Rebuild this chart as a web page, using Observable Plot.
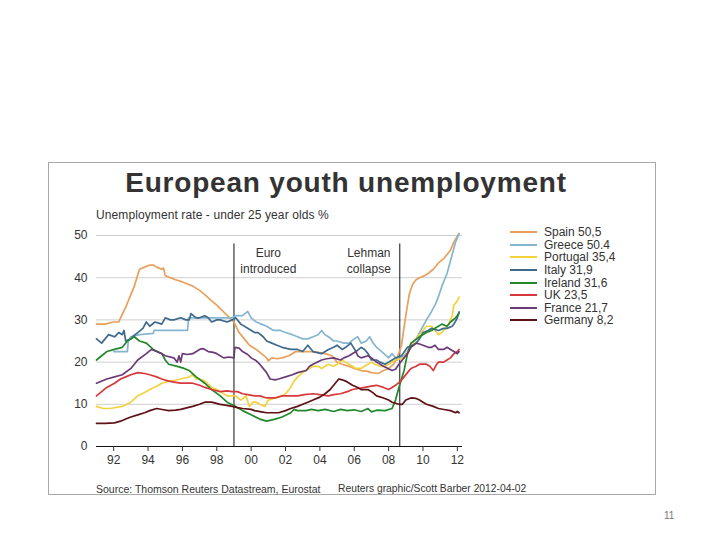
<!DOCTYPE html>
<html>
<head>
<meta charset="utf-8">
<script src="https://cdn.jsdelivr.net/npm/d3@7"></script>
<script src="https://cdn.jsdelivr.net/npm/@observablehq/plot@0.6"></script>
<style>
  html, body { margin: 0; padding: 0; background: #fff; }
  body { font-family: "Liberation Sans", Arial, sans-serif; color: #333; }
  #wrap { position: relative; width: 720px; height: 540px; overflow: hidden; background: #fff; }
  #box { position: absolute; left: 48px; top: 162px; width: 606px; height: 331px; border: 1px solid #a8a8a8; }
  #title { position: absolute; left: 48px; width: 596px; top: 167px; text-align: center; font-size: 28px; letter-spacing: 0.8px; font-weight: bold; color: #333; line-height: 32px; white-space: nowrap; }
  #subtitle { position: absolute; left: 96px; top: 208px; font-size: 12px; color: #333; line-height: 14px; white-space: nowrap; letter-spacing: 0.1px; }
  #chart { position: absolute; left: 0; top: 0; }
  #legend { position: absolute; left: 510px; top: 226px; }
  .row { display: flex; align-items: center; height: 12.6px; font-size: 12px; line-height: 12px; color: #333; white-space: nowrap; }
  .sw { width: 27px; height: 2px; margin-right: 7px; }
  #foot1 { position: absolute; left: 96px; top: 483px; font-size: 10.5px; color: #333; white-space: nowrap; }
  #foot2 { position: absolute; left: 338px; top: 483px; font-size: 10.3px; color: #333; white-space: nowrap; }
  #page { position: absolute; left: 664px; top: 510px; font-size: 10px; color: #777; }
</style>
</head>
<body>
<div id="wrap">
  <div id="box"></div>
  <div id="title">European youth unemployment</div>
  <div id="subtitle">Unemployment rate - under 25 year olds %</div>
  <div id="chart"></div>
  <div id="legend"></div>
  <div id="foot1">Source: Thomson Reuters Datastream, Eurostat</div>
  <div id="foot2">Reuters graphic/Scott Barber 2012-04-02</div>
  <div id="page">11</div>
</div>
<script>
// ---- data: [year, % unemployed under 25] ----
const spain = [[1991.0,29],[1991.5,29],[1992.0,29.5],[1992.3,29.5],[1992.4,30.5],[1992.7,33],[1993.0,36],[1993.2,38],[1993.5,42],[1993.8,42.5],[1994.1,43],[1994.3,43],[1994.5,42.5],[1994.8,42],[1994.9,42.3],[1995.0,40.5],[1995.3,40],[1995.6,39.5],[1996.0,39],[1996.3,38.5],[1996.6,38],[1997.0,37],[1997.3,36],[1997.7,34.5],[1998.0,33.5],[1998.5,31.5],[1999.0,29.5],[1999.3,27],[1999.6,25.5],[1999.9,24],[2000.3,23],[2000.6,22],[2000.9,21],[2001.0,20.3],[2001.2,21],[2001.5,20.8],[2001.8,21],[2002.2,21.5],[2002.6,22.5],[2003.0,22.5],[2003.5,22.5],[2003.9,22.3],[2004.3,22],[2004.7,21.5],[2005.0,20],[2005.3,19.5],[2005.7,19],[2006.0,18.5],[2006.4,18],[2006.8,17.8],[2007.0,17.5],[2007.4,17.3],[2007.7,18],[2008.0,18.5],[2008.3,19.5],[2008.5,21],[2008.75,24],[2009.0,31],[2009.2,36],[2009.4,38.5],[2009.6,39.5],[2009.8,40],[2010.1,40.5],[2010.3,41],[2010.6,42],[2010.9,43.5],[2011.2,44.5],[2011.4,45.5],[2011.6,46.5],[2011.8,48.5],[2012.1,50.5]];
const greece = [[1992.0,22.5],[1992.8,22.5],[1992.85,25],[1993.0,26],[1993.5,26.5],[1994.3,26.8],[1994.35,27.5],[1996.3,27.5],[1996.35,30.5],[1998.9,30.5],[1999.1,31],[1999.5,31],[1999.8,32],[2000.0,30.5],[2000.3,29.5],[2000.6,29],[2000.9,28.5],[2001.3,27.5],[2001.7,27.5],[2002.0,27],[2002.4,26.5],[2002.7,26],[2003.0,25.5],[2003.3,25.5],[2003.6,26],[2003.9,26.5],[2004.1,27.5],[2004.3,26.5],[2004.5,26],[2004.8,25],[2005.0,25],[2005.4,24.5],[2005.7,24.5],[2006.0,25.5],[2006.2,26],[2006.4,24.5],[2006.7,25],[2006.9,26],[2007.1,24.5],[2007.3,23.5],[2007.6,22.5],[2008.0,21],[2008.2,22],[2008.5,20.5],[2008.9,21.5],[2009.1,22.5],[2009.3,24],[2009.6,25.5],[2009.8,27],[2010.0,28.5],[2010.2,30],[2010.5,32],[2010.7,33.5],[2010.9,35.5],[2011.1,38],[2011.4,41],[2011.6,44],[2011.8,47],[2011.9,48.5],[2012.1,50.4]];
const portugal = [[1991.0,9.5],[1991.4,9],[1991.8,9],[1992.2,9.3],[1992.5,9.5],[1993.0,10.5],[1993.4,12],[1993.8,12.8],[1994.1,13.5],[1994.5,14.3],[1994.8,15],[1995.2,15.5],[1995.6,15.7],[1995.9,16],[1996.2,16.3],[1996.4,16.5],[1996.6,17],[1996.8,16],[1997.0,16],[1997.3,15.5],[1997.7,14],[1998.0,13.5],[1998.2,13],[1998.6,12],[1999.1,12],[1999.4,11],[1999.7,12],[1999.9,9.5],[2000.1,10.5],[2000.3,10.5],[2000.5,10],[2000.8,9.5],[2001.0,11],[2001.4,11.5],[2001.8,12],[2002.0,12.5],[2002.3,14],[2002.5,15.5],[2002.7,16.5],[2003.0,17.5],[2003.2,18],[2003.6,19],[2003.9,19],[2004.1,18.5],[2004.3,19],[2004.5,19.5],[2004.8,19],[2005.0,19.5],[2005.3,20.5],[2005.5,20],[2005.7,19.5],[2006.1,18.5],[2006.4,18.5],[2006.6,19],[2006.8,19.5],[2007.0,20],[2007.2,19.5],[2007.5,19],[2007.8,19],[2008.0,19.5],[2008.4,20.5],[2008.9,21],[2009.1,22.5],[2009.3,24],[2009.5,25],[2009.8,26.5],[2010.0,27.5],[2010.2,28.5],[2010.5,28.5],[2010.7,27.5],[2010.9,26.5],[2011.1,27],[2011.3,28],[2011.5,29],[2011.7,31],[2011.8,33.5],[2012.0,34.5],[2012.1,35.4]];
const italy = [[1991.0,25.5],[1991.3,24.5],[1991.5,25.5],[1991.7,26.5],[1992.05,26],[1992.3,27],[1992.5,26.5],[1992.6,27.5],[1992.7,25],[1993.0,25.5],[1993.1,26],[1993.4,27],[1993.7,28],[1993.9,29.5],[1994.1,28.5],[1994.4,29.5],[1994.8,29],[1995.0,30.5],[1995.3,30],[1995.5,30],[1995.9,30.5],[1996.2,30],[1996.4,30],[1996.5,31.5],[1996.8,30.5],[1997.0,30.5],[1997.3,31],[1997.5,30.5],[1997.7,29.5],[1998.0,30],[1998.2,30],[1998.6,29.5],[1998.9,30],[1999.1,30.5],[1999.4,29],[1999.8,28],[2000.2,27],[2000.4,27],[2000.7,26],[2000.9,25],[2001.2,24.5],[2001.5,24],[2001.8,23.5],[2002.3,23],[2002.7,23],[2003.0,22.5],[2003.3,24],[2003.6,22.5],[2004.1,22],[2004.5,23],[2004.8,23.5],[2005.0,24],[2005.3,23],[2005.5,23.5],[2005.8,24.5],[2006.1,22.5],[2006.4,23.5],[2006.6,23],[2006.8,22],[2007.0,20.5],[2007.3,20.5],[2007.5,20],[2007.8,19.5],[2008.0,20],[2008.2,20.5],[2008.4,21],[2008.75,21.5],[2009.1,23.5],[2009.4,24],[2009.6,24.5],[2009.8,25.5],[2010.0,27],[2010.3,27.5],[2010.5,28],[2010.9,27.5],[2011.2,28],[2011.4,28],[2011.7,28.5],[2011.8,29],[2012.0,30.5],[2012.1,31.9]];
const ireland = [[1991.0,20.5],[1991.3,21.5],[1991.6,22.5],[1992.05,23],[1992.5,23.5],[1992.8,25],[1993.0,25.5],[1993.2,26],[1993.5,25],[1993.9,24.5],[1994.3,23],[1994.8,22],[1995.0,20.5],[1995.2,19.5],[1995.7,19],[1996.1,18.5],[1996.4,18],[1996.8,16.5],[1997.3,15],[1997.7,13.5],[1998.2,12],[1998.6,10.5],[1999.1,9.5],[1999.5,8.5],[2000.0,7.5],[2000.5,6.5],[2000.9,6],[2001.4,6.5],[2001.8,7],[2002.3,8],[2002.5,8.8],[2002.7,8.5],[2003.2,8.5],[2003.5,8.8],[2003.9,8.5],[2004.3,8.8],[2004.8,8.3],[2005.2,8.8],[2005.6,8.5],[2006.0,8.7],[2006.4,8.3],[2006.8,9],[2007.0,8.2],[2007.3,8.6],[2007.8,8.5],[2008.2,9],[2008.4,11],[2008.6,14],[2008.9,18],[2009.1,22],[2009.3,24.5],[2009.8,26],[2010.2,27],[2010.5,27.5],[2010.7,28],[2011.1,29],[2011.4,28.5],[2011.6,29.5],[2011.9,30.5],[2012.1,31.6]];
const uk = [[1991.0,12],[1991.3,13],[1991.6,14],[1992.05,15],[1992.4,16],[1992.7,16.5],[1993.0,17],[1993.4,17.5],[1993.8,17.3],[1994.1,17],[1994.5,16.5],[1994.8,16],[1995.2,15.5],[1995.6,15.2],[1995.9,15],[1996.3,15],[1996.6,15],[1997.0,14.5],[1997.3,14],[1997.7,13.5],[1998.2,13],[1998.6,13.2],[1998.9,13],[1999.2,13],[1999.5,12.5],[1999.8,12.3],[2000.2,12],[2000.5,12],[2000.9,11.5],[2001.4,11.5],[2001.8,12],[2002.2,12],[2002.7,12],[2003.1,12.3],[2003.6,12.5],[2004.0,12.3],[2004.5,12],[2004.8,12.3],[2005.2,12.5],[2005.6,13],[2005.9,13.5],[2006.3,13.8],[2006.6,14],[2007.0,14.3],[2007.3,14.5],[2007.7,14],[2008.0,13.5],[2008.2,14],[2008.4,14.5],[2008.7,15.5],[2008.9,16.5],[2009.1,17.5],[2009.3,18.5],[2009.6,19],[2009.8,19.5],[2010.0,19.5],[2010.2,19.5],[2010.4,19],[2010.6,18],[2010.8,19.5],[2010.9,20],[2011.2,20],[2011.4,20.5],[2011.6,21],[2011.8,22],[2012.0,22.5],[2012.1,23]];
const france = [[1991.0,15],[1991.6,16],[1992.05,16.5],[1992.5,17],[1993.0,18.5],[1993.4,20.5],[1993.9,22],[1994.2,23],[1994.5,22.5],[1994.8,22],[1995.0,21.5],[1995.5,21],[1995.7,20],[1995.8,21.5],[1995.9,20],[1996.0,22],[1996.3,21.8],[1996.6,22],[1997.0,23],[1997.2,23.2],[1997.5,22.5],[1997.8,22.3],[1998.0,22],[1998.4,21],[1998.7,21.2],[1999.0,21],[1999.05,23.5],[1999.3,23.3],[1999.5,22.5],[1999.8,21.8],[2000.0,21],[2000.3,20.3],[2000.5,19.5],[2000.9,17.5],[2001.1,16],[2001.4,15.8],[2001.6,16],[2002.0,16.5],[2002.4,17],[2002.7,17.5],[2003.2,18],[2003.4,19],[2003.6,19.5],[2004.1,20.5],[2004.4,20.8],[2004.8,21],[2005.2,20.5],[2005.4,21],[2005.7,21.5],[2006.1,22.5],[2006.2,21.5],[2006.4,21],[2006.8,21.5],[2007.0,21],[2007.3,20],[2007.7,19],[2008.2,18],[2008.4,18.3],[2008.6,19.5],[2008.8,20.5],[2009.1,22],[2009.3,23.5],[2009.6,24.5],[2009.8,24.3],[2010.0,24],[2010.3,23.5],[2010.5,23.5],[2010.7,24],[2010.9,23],[2011.2,23],[2011.4,23.5],[2011.6,23],[2011.8,22.5],[2012.0,22],[2012.1,22.5]];
const germany = [[1991.0,5.5],[1991.5,5.5],[1992.05,5.6],[1992.4,6],[1992.7,6.5],[1993.0,7],[1993.4,7.5],[1993.8,8],[1994.1,8.5],[1994.5,9],[1994.9,8.7],[1995.2,8.5],[1995.6,8.6],[1995.9,8.8],[1996.3,9.2],[1996.6,9.5],[1997.0,10],[1997.3,10.5],[1997.7,10.5],[1998.2,10],[1998.5,9.8],[1998.9,9.5],[1999.2,9.2],[1999.5,9],[2000.0,8.8],[2000.2,8.5],[2000.6,8.2],[2000.9,8],[2001.3,8],[2001.6,8],[2002.0,8.5],[2002.3,9],[2002.7,9.5],[2003.0,10],[2003.3,10.5],[2003.6,11],[2004.0,11.7],[2004.3,12.5],[2004.6,13.5],[2004.8,14.5],[2005.1,16],[2005.3,15.8],[2005.5,15.5],[2005.9,14.5],[2006.2,14],[2006.4,13.5],[2006.8,13.5],[2007.1,12.7],[2007.3,12],[2007.7,11.5],[2008.0,11],[2008.2,10.5],[2008.6,10],[2008.8,10],[2009.0,11],[2009.3,11.5],[2009.6,11.4],[2009.8,11],[2010.0,10.5],[2010.2,10],[2010.6,9.5],[2010.9,9],[2011.3,8.7],[2011.6,8.5],[2011.9,8],[2012.0,8.3],[2012.1,8]];

const seriesNames  = ["Spain","Greece","Portugal","Italy","Ireland","UK","France","Germany"];
const seriesLabels = ["Spain 50,5","Greece 50.4","Portugal 35,4","Italy 31,9","Ireland 31,6","UK 23,5","France 21,7","Germany 8,2"];
const seriesColors = ["#e8a05c","#86b6cf","#f3d23c","#3f6a8c","#23872c","#d8383a","#6b3b78","#5e1116"];
const seriesData   = [spain, greece, portugal, italy, ireland, uk, france, germany];

const eventYears  = [1999.0, 2008.65];
const eventLabels = ["Euro\nintroduced", "Lehman\ncollapse"];
const eventLabelX = [2001.0, 2006.85];

const xTicks = [1992,1994,1996,1998,2000,2002,2004,2006,2008,2010,2012];
const yTicks = [0,10,20,30,40,50];

// ---- build table ----
const rows = seriesData.flatMap((arr, i) => arr.map(([year, value]) => ({country: seriesNames[i], year, value})));
const events = eventYears.map((x, i) => ({x, lx: eventLabelX[i], label: eventLabels[i]}));

const chart = Plot.plot({
  width: 720,
  height: 540,
  marginLeft: 96,
  marginRight: 258,
  marginTop: 235,
  marginBottom: 94,
  style: {background: "transparent", fontFamily: "Liberation Sans, Arial, sans-serif", fontSize: "12px", color: "#333"},
  x: {domain: [1991.0, 2012.3]},
  y: {domain: [0, 50]},
  color: {domain: seriesNames, range: seriesColors},
  marks: [
    Plot.gridY(yTicks.filter(d => d > 0), {stroke: "#cfcfcf", strokeOpacity: 1}),
    Plot.ruleX(events, {x: "x", y1: 0, y2: 48, stroke: "#111", strokeWidth: 1}),
    Plot.text(events, {x: "lx", y: 44.3, text: "label", lineHeight: 1.35, fontSize: 12, fill: "#333"}),
    Plot.line(rows, {x: "year", y: "value", z: "country", stroke: "country", strokeWidth: 1.7, strokeLinejoin: "round"}),
    Plot.ruleY([0], {stroke: "#111", strokeWidth: 1}),
    Plot.axisX(xTicks, {tickSize: 5, tickPadding: 4, tickFormat: d => String(d).slice(2), label: null, fontSize: 12, fill: "#333"}),
    Plot.axisY(yTicks, {tickSize: 0, tickPadding: 9, label: null, fontSize: 12, fill: "#333"})
  ]
});
document.getElementById("chart").appendChild(chart);

// ---- legend ----
const legend = document.getElementById("legend");
seriesNames.forEach((n, i) => {
  const row = document.createElement("div");
  row.className = "row";
  const sw = document.createElement("span");
  sw.className = "sw";
  sw.style.background = seriesColors[i];
  const t = document.createElement("span");
  t.textContent = seriesLabels[i];
  row.appendChild(sw);
  row.appendChild(t);
  legend.appendChild(row);
});
</script>
</body>
</html>
